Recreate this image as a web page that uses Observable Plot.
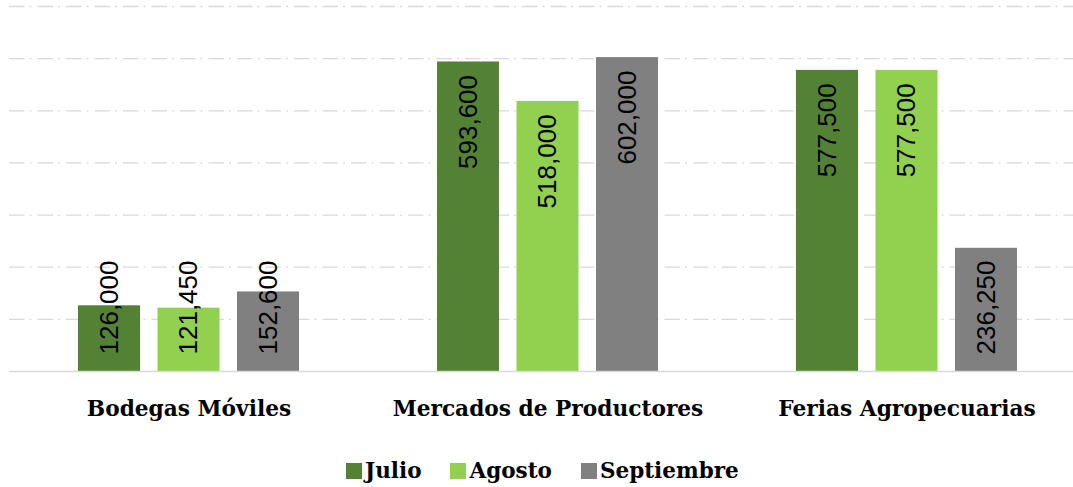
<!DOCTYPE html>
<html>
<head>
<meta charset="utf-8">
<script src="https://cdn.jsdelivr.net/npm/d3@7"></script>
<script src="https://cdn.jsdelivr.net/npm/@observablehq/plot@0.6"></script>
<style>
  html, body { margin: 0; padding: 0; background: #fff; }
  #wrap { position: relative; width: 1073px; height: 487px; overflow: hidden; }
  #legend { position: absolute; left: 346px; top: 458px; display: flex; align-items: center;
    font-family: "DejaVu Serif", serif; font-weight: bold; font-size: 21.5px; color: #000; }
  #legend .item { display: flex; align-items: center; margin-right: 29px; }
  #legend .sw { width: 16px; height: 16px; margin-right: 3px; }
</style>
</head>
<body>
<div id="wrap"><div id="chart"></div><div id="legend"></div></div>
<script>
const categories = ["Bodegas Móviles", "Mercados de Productores", "Ferias Agropecuarias"];
const series = ["Julio", "Agosto", "Septiembre"];
const julio = [126000, 593600, 577500];
const agosto = [121450, 518000, 577500];
const septiembre = [152600, 602000, 236250];
const colors = ["#548235", "#92D050", "#808080"];
const yTicks = [100000, 200000, 300000, 400000, 500000, 600000, 700000];

const values = [julio, agosto, septiembre];
const rows = [];
series.forEach((s, i) => categories.forEach((c, j) => rows.push({cat: c, series: s, i, value: values[i][j]})));

const fmt = d3.format(",");
const step = 79.5;       // inner step between bars of a group
const labelFloor = 240000; // bars shorter than this get their label pushed up from the base

const marks = [
  Plot.ruleY(yTicks, {stroke: "#d9d9d9", strokeWidth: 1.3, strokeDasharray: "15.5,5,2,6"}),
];
series.forEach((s, i) => {
  const sub = rows.filter(r => r.i === i);
  marks.push(Plot.barY(sub, {x: "cat", y: "value", fill: colors[i], insetLeft: i * step, insetRight: (2 - i) * step}));
  marks.push(Plot.text(sub.filter(r => r.value >= labelFloor), {
    x: "cat", y: "value", text: d => fmt(d.value), rotate: -90, textAnchor: "end",
    dx: (i - 1) * step, dy: 13, fontSize: 26, fontFamily: "Liberation Sans", fill: "#000"
  }));
  marks.push(Plot.text(sub.filter(r => r.value < labelFloor), {
    x: "cat", y: 0, text: d => fmt(d.value), rotate: -90, textAnchor: "start",
    dx: (i - 1) * step, dy: -17, fontSize: 26, fontFamily: "Liberation Sans", fill: "#000"
  }));
});
marks.push(Plot.ruleY([0], {stroke: "#d9d9d9", strokeWidth: 1.5}));
marks.push(Plot.text(categories, {
  x: d => d, frameAnchor: "bottom", dy: 44, text: d => d,
  fontSize: 21.7, fontWeight: "bold", fontFamily: "DejaVu Serif", fill: "#000"
}));

const chart = Plot.plot({
  width: 1073, height: 440,
  marginLeft: 9, marginRight: 0, marginTop: 6, marginBottom: 69,
  x: {domain: categories, range: [9, 1086], paddingInner: 0.385, paddingOuter: 0.19, axis: null},
  y: {domain: [0, 700000], axis: null},
  style: {background: "#fff", overflow: "visible"},
  marks
});
document.getElementById("chart").appendChild(chart);

const legend = document.getElementById("legend");
series.forEach((s, i) => {
  const item = document.createElement("div");
  item.className = "item";
  const sw = document.createElement("div");
  sw.className = "sw";
  sw.style.background = colors[i];
  const t = document.createElement("span");
  t.textContent = s;
  item.appendChild(sw); item.appendChild(t);
  legend.appendChild(item);
});
</script>
</body>
</html>
